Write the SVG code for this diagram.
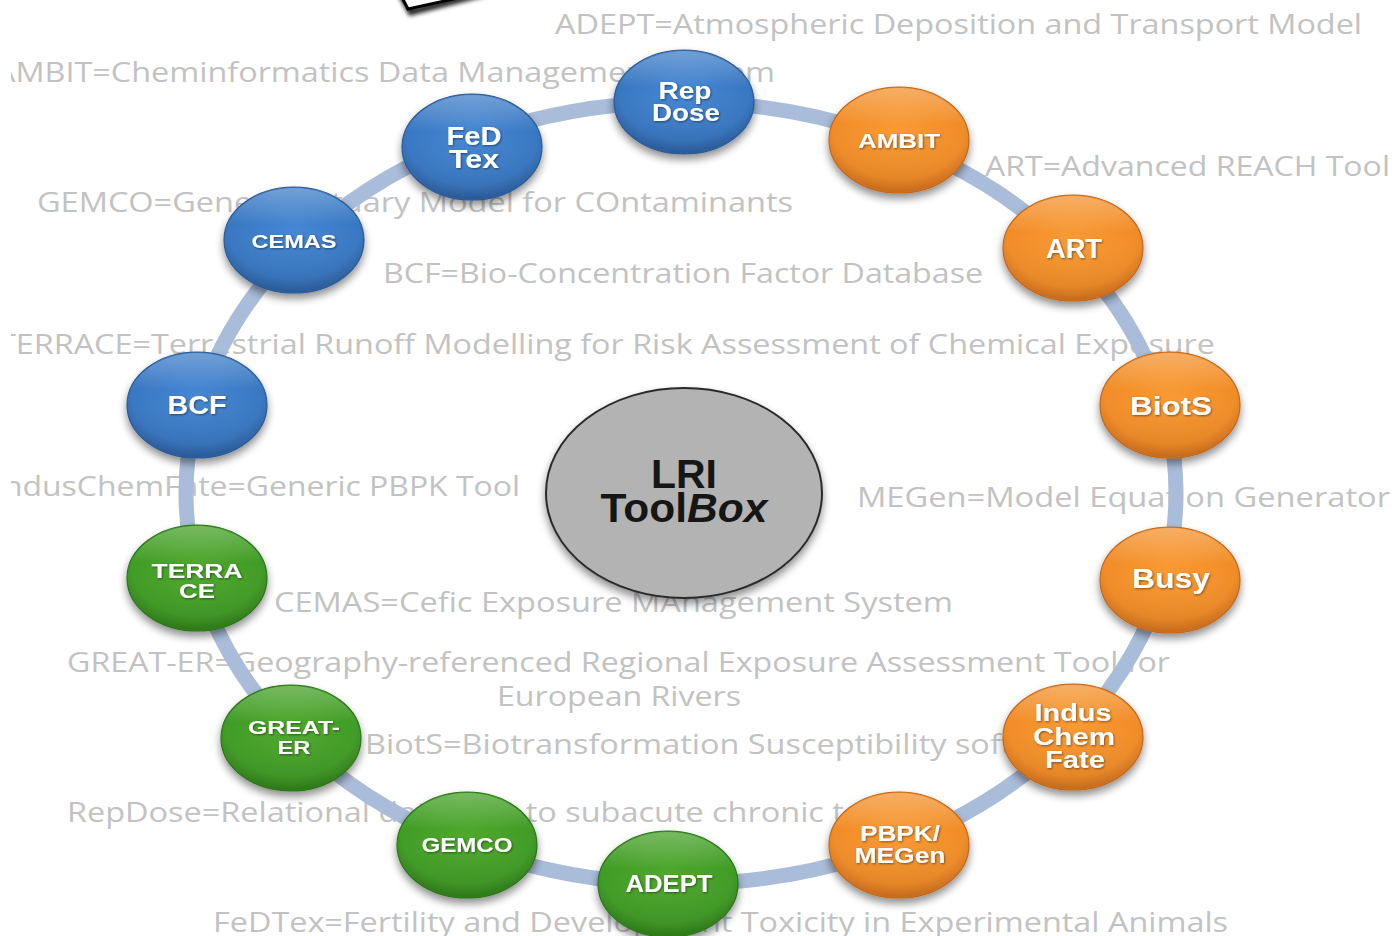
<svg xmlns="http://www.w3.org/2000/svg" width="1396" height="936" viewBox="0 0 1396 936">
<style>
.def{font-family:"Open Sans","Liberation Sans",sans-serif;font-size:28px;fill:#c2c2c2;}
.nt{font-family:"Liberation Sans",Arial,sans-serif;font-weight:bold;fill:#ffffff;text-anchor:middle;}
.ring{fill:none;stroke:#a9bcd9;stroke-width:15;}
.nb{stroke:#2a5a94;stroke-width:1.2;}
.no{stroke:#c2661a;stroke-width:1.2;}
.ng{stroke:#2b7418;stroke-width:1.2;}
.lri{font-family:"Liberation Sans",Arial,sans-serif;font-weight:bold;font-size:41px;fill:#161616;text-anchor:middle;}
</style>
<defs>
<radialGradient id="gBlue" cx="0.5" cy="0.4" r="0.62">
<stop offset="0" stop-color="#4587d4"/>
<stop offset="0.75" stop-color="#3877c2"/>
<stop offset="1" stop-color="#2a5c9c"/>
</radialGradient>
<radialGradient id="gOrange" cx="0.5" cy="0.4" r="0.62">
<stop offset="0" stop-color="#f99a33"/>
<stop offset="0.75" stop-color="#f18c27"/>
<stop offset="1" stop-color="#cf6e1c"/>
</radialGradient>
<radialGradient id="gGreen" cx="0.5" cy="0.4" r="0.62">
<stop offset="0" stop-color="#4fa82e"/>
<stop offset="0.75" stop-color="#409c25"/>
<stop offset="1" stop-color="#2e7c1a"/>
</radialGradient>
<linearGradient id="gGloss" x1="0" y1="0" x2="0" y2="1">
<stop offset="0" stop-color="#ffffff" stop-opacity="0.28"/>
<stop offset="0.35" stop-color="#ffffff" stop-opacity="0"/>
<stop offset="1" stop-color="#000000" stop-opacity="0.08"/>
</linearGradient>
<filter id="shadow" x="-30%" y="-30%" width="160%" height="170%">
<feGaussianBlur in="SourceAlpha" stdDeviation="4"/>
<feOffset dx="0" dy="5" result="b"/>
<feComponentTransfer><feFuncA type="linear" slope="0.45"/></feComponentTransfer>
<feMerge><feMergeNode/><feMergeNode in="SourceGraphic"/></feMerge>
</filter>
<filter id="tshadow" x="-20%" y="-30%" width="140%" height="160%">
<feDropShadow dx="1" dy="1" stdDeviation="0.8" flood-color="#000000" flood-opacity="0.45"/>
</filter>
<filter id="blur2" x="-50%" y="-50%" width="200%" height="200%">
<feGaussianBlur stdDeviation="2"/>
</filter>
<clipPath id="leftClip"><rect x="11" y="0" width="1385" height="936"/></clipPath>
</defs>

<rect x="0" y="0" width="1396" height="936" fill="#ffffff"/>

<g id="frame-corner">
<path d="M 398 -12 L 411 12 L 505 -12" fill="none" stroke="#000000" stroke-width="7" filter="url(#blur2)" opacity="0.85"/>
<path d="M 398 -10 L 408 9 L 495 -10 Z" fill="#ffffff" stroke="#000000" stroke-width="3"/>
</g>

<g id="definitions" clip-path="url(#leftClip)">
<text class="def" x="555" y="34" textLength="807" lengthAdjust="spacingAndGlyphs">ADEPT=Atmospheric Deposition and Transport Model</text>
<text class="def" x="-5" y="82" textLength="780" lengthAdjust="spacingAndGlyphs">AMBIT=Cheminformatics Data Management System</text>
<text class="def" x="985" y="176" textLength="405" lengthAdjust="spacingAndGlyphs">ART=Advanced REACH Tool</text>
<text class="def" x="37" y="212" textLength="756" lengthAdjust="spacingAndGlyphs">GEMCO=Generic Estuary Model for COntaminants</text>
<text class="def" x="383" y="283" textLength="600" lengthAdjust="spacingAndGlyphs">BCF=Bio-Concentration Factor Database</text>
<text class="def" x="-2" y="354" textLength="1217" lengthAdjust="spacingAndGlyphs">TERRACE=Terrestrial Runoff Modelling for Risk Assessment of Chemical Exposure</text>
<text class="def" x="-6" y="496" textLength="526" lengthAdjust="spacingAndGlyphs">IndusChemFate=Generic PBPK Tool</text>
<text class="def" x="857" y="507" textLength="533" lengthAdjust="spacingAndGlyphs">MEGen=Model Equation Generator</text>
<text class="def" x="274" y="612" textLength="679" lengthAdjust="spacingAndGlyphs">CEMAS=Cefic Exposure MAnagement System</text>
<text class="def" x="67" y="672" textLength="1103" lengthAdjust="spacingAndGlyphs">GREAT-ER=Geography-referenced Regional Exposure Assessment Tool for</text>
<text class="def" x="497" y="706" textLength="244" lengthAdjust="spacingAndGlyphs">European Rivers</text>
<text class="def" x="365" y="754" textLength="722" lengthAdjust="spacingAndGlyphs">BiotS=Biotransformation Susceptibility software</text>
<text class="def" x="67" y="822" textLength="873" lengthAdjust="spacingAndGlyphs">RepDose=Relational database to subacute chronic toxicity</text>
<text class="def" x="213" y="932" textLength="1015" lengthAdjust="spacingAndGlyphs">FeDTex=Fertility and Development Toxicity in Experimental Animals</text>
</g>

<g id="connectors">
<ellipse class="ring" cx="681" cy="493" rx="495" ry="391"/>
</g>

<g id="center-lri" filter="url(#shadow)">
<ellipse cx="684" cy="493" rx="138" ry="105" fill="#b3b3b3" stroke="#2a2a2a" stroke-width="2"/>
</g>
<g id="center-lri-label">
<text class="lri" x="684" y="488" textLength="66" lengthAdjust="spacingAndGlyphs">LRI</text>
<text class="lri" x="684" y="522" textLength="167" lengthAdjust="spacingAndGlyphs">Tool<tspan font-style="italic">Box</tspan></text>
</g>

<g id="node-repdose">
<ellipse cx="684" cy="102" rx="70" ry="52" fill="url(#gBlue)" class="nb" filter="url(#shadow)"/>
<ellipse cx="684" cy="102" rx="69" ry="51" fill="url(#gGloss)"/>
<g filter="url(#tshadow)">
<text class="nt" x="685" y="99" font-size="24" textLength="53" lengthAdjust="spacingAndGlyphs">Rep</text>
<text class="nt" x="686" y="121" font-size="24" textLength="68" lengthAdjust="spacingAndGlyphs">Dose</text>
</g>
</g>

<g id="node-ambit">
<ellipse cx="899" cy="140" rx="70" ry="53" fill="url(#gOrange)" class="no" filter="url(#shadow)"/>
<ellipse cx="899" cy="140" rx="69" ry="52" fill="url(#gGloss)"/>
<text class="nt" x="899" y="148" font-size="21" textLength="82" lengthAdjust="spacingAndGlyphs" filter="url(#tshadow)">AMBIT</text>
</g>

<g id="node-art">
<ellipse cx="1073" cy="248" rx="70" ry="53" fill="url(#gOrange)" class="no" filter="url(#shadow)"/>
<ellipse cx="1073" cy="248" rx="69" ry="52" fill="url(#gGloss)"/>
<text class="nt" x="1074" y="258" font-size="27" textLength="56" lengthAdjust="spacingAndGlyphs" filter="url(#tshadow)">ART</text>
</g>

<g id="node-biots">
<ellipse cx="1170" cy="405" rx="70" ry="53" fill="url(#gOrange)" class="no" filter="url(#shadow)"/>
<ellipse cx="1170" cy="405" rx="69" ry="52" fill="url(#gGloss)"/>
<text class="nt" x="1171" y="415" font-size="26" textLength="82" lengthAdjust="spacingAndGlyphs" filter="url(#tshadow)">BiotS</text>
</g>

<g id="node-busy">
<ellipse cx="1170" cy="580" rx="70" ry="53" fill="url(#gOrange)" class="no" filter="url(#shadow)"/>
<ellipse cx="1170" cy="580" rx="69" ry="52" fill="url(#gGloss)"/>
<text class="nt" x="1171" y="588" font-size="27" textLength="78" lengthAdjust="spacingAndGlyphs" filter="url(#tshadow)">Busy</text>
</g>

<g id="node-induschemfate">
<ellipse cx="1073" cy="737" rx="70" ry="53" fill="url(#gOrange)" class="no" filter="url(#shadow)"/>
<ellipse cx="1073" cy="737" rx="69" ry="52" fill="url(#gGloss)"/>
<g filter="url(#tshadow)">
<text class="nt" x="1073" y="721" font-size="24" textLength="77" lengthAdjust="spacingAndGlyphs">Indus</text>
<text class="nt" x="1074" y="745" font-size="24" textLength="82" lengthAdjust="spacingAndGlyphs">Chem</text>
<text class="nt" x="1075" y="768" font-size="24" textLength="60" lengthAdjust="spacingAndGlyphs">Fate</text>
</g>
</g>

<g id="node-pbpk-megen">
<ellipse cx="899" cy="845" rx="70" ry="53" fill="url(#gOrange)" class="no" filter="url(#shadow)"/>
<ellipse cx="899" cy="845" rx="69" ry="52" fill="url(#gGloss)"/>
<g filter="url(#tshadow)">
<text class="nt" x="900" y="841" font-size="22" textLength="80" lengthAdjust="spacingAndGlyphs">PBPK/</text>
<text class="nt" x="900" y="863" font-size="22" textLength="91" lengthAdjust="spacingAndGlyphs">MEGen</text>
</g>
</g>

<g id="node-adept">
<ellipse cx="668" cy="884" rx="70" ry="53" fill="url(#gGreen)" class="ng" filter="url(#shadow)"/>
<ellipse cx="668" cy="884" rx="69" ry="52" fill="url(#gGloss)"/>
<text class="nt" x="669" y="892" font-size="23" textLength="87" lengthAdjust="spacingAndGlyphs" filter="url(#tshadow)">ADEPT</text>
</g>

<g id="node-gemco">
<ellipse cx="467" cy="845" rx="70" ry="53" fill="url(#gGreen)" class="ng" filter="url(#shadow)"/>
<ellipse cx="467" cy="845" rx="69" ry="52" fill="url(#gGloss)"/>
<text class="nt" x="467" y="852" font-size="20" textLength="91" lengthAdjust="spacingAndGlyphs" filter="url(#tshadow)">GEMCO</text>
</g>

<g id="node-great-er">
<ellipse cx="291" cy="738" rx="70" ry="53" fill="url(#gGreen)" class="ng" filter="url(#shadow)"/>
<ellipse cx="291" cy="738" rx="69" ry="52" fill="url(#gGloss)"/>
<g filter="url(#tshadow)">
<text class="nt" x="294" y="734" font-size="19" textLength="92" lengthAdjust="spacingAndGlyphs">GREAT-</text>
<text class="nt" x="294" y="754" font-size="19" textLength="33" lengthAdjust="spacingAndGlyphs">ER</text>
</g>
</g>

<g id="node-terrace">
<ellipse cx="197" cy="578" rx="70" ry="53" fill="url(#gGreen)" class="ng" filter="url(#shadow)"/>
<ellipse cx="197" cy="578" rx="69" ry="52" fill="url(#gGloss)"/>
<g filter="url(#tshadow)">
<text class="nt" x="197" y="578" font-size="21" textLength="91" lengthAdjust="spacingAndGlyphs">TERRA</text>
<text class="nt" x="197" y="598" font-size="21" textLength="36" lengthAdjust="spacingAndGlyphs">CE</text>
</g>
</g>

<g id="node-bcf">
<ellipse cx="197" cy="405" rx="70" ry="53" fill="url(#gBlue)" class="nb" filter="url(#shadow)"/>
<ellipse cx="197" cy="405" rx="69" ry="52" fill="url(#gGloss)"/>
<text class="nt" x="197" y="414" font-size="26" textLength="59" lengthAdjust="spacingAndGlyphs" filter="url(#tshadow)">BCF</text>
</g>

<g id="node-cemas">
<ellipse cx="294" cy="240" rx="70" ry="53" fill="url(#gBlue)" class="nb" filter="url(#shadow)"/>
<ellipse cx="294" cy="240" rx="69" ry="52" fill="url(#gGloss)"/>
<text class="nt" x="294" y="248" font-size="19" textLength="85" lengthAdjust="spacingAndGlyphs" filter="url(#tshadow)">CEMAS</text>
</g>

<g id="node-fedtex">
<ellipse cx="472" cy="147" rx="70" ry="53" fill="url(#gBlue)" class="nb" filter="url(#shadow)"/>
<ellipse cx="472" cy="147" rx="69" ry="52" fill="url(#gGloss)"/>
<g filter="url(#tshadow)">
<text class="nt" x="474" y="145" font-size="25" textLength="55" lengthAdjust="spacingAndGlyphs">FeD</text>
<text class="nt" x="474" y="168" font-size="25" textLength="50" lengthAdjust="spacingAndGlyphs">Tex</text>
</g>
</g>
</svg>
